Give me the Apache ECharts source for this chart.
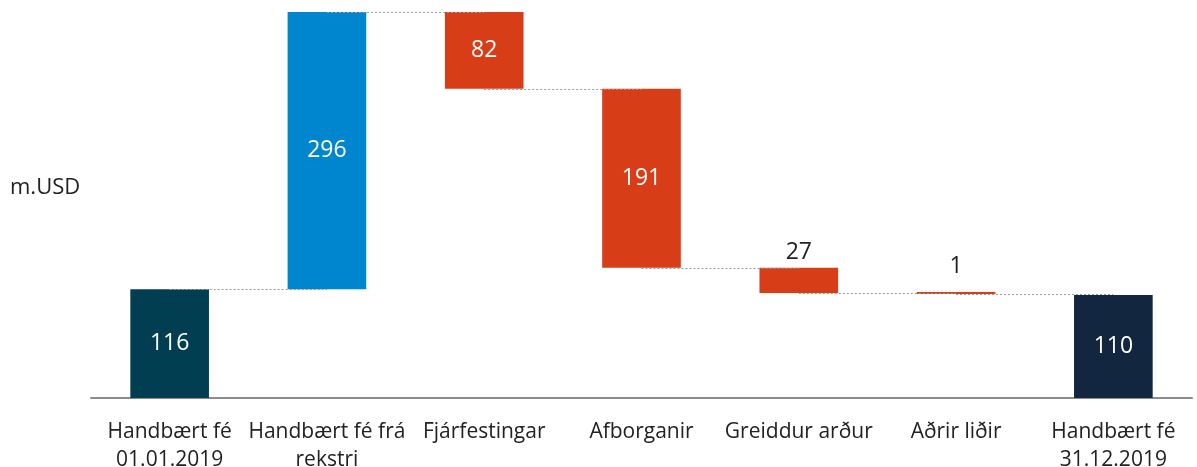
<!DOCTYPE html>
<html>
<head>
<meta charset="utf-8">
<script src="https://cdn.jsdelivr.net/npm/echarts@6/dist/echarts.min.js"></script>
<style>
  html, body { margin: 0; padding: 0; background: #fff; }
  #chart { width: 1197px; height: 467px; }
</style>
</head>
<body>
<div id="chart"></div>
<script>
// gögn
const categories = ['Handbært fé\n01.01.2019', 'Handbært fé frá\nrekstri', 'Fjárfestingar', 'Afborganir', 'Greiddur arður', 'Aðrir liðir', 'Handbært fé\n31.12.2019'];
const changes = [116, 296, -82, -191, -27, -1, 110];
const kinds = ['total', 'up', 'down', 'down', 'down', 'down', 'total'];

const colors = { total0: '#023E51', up: '#0086CF', down: '#D73E17', total1: '#13263F' };

// reikna grunn og hæð hverrar súlu
let running = 0;
const base = [], height = [], levels = [];
changes.forEach((v, i) => {
    if (kinds[i] === 'total') {
        base.push(0);
        height.push(v);
        running = v;
    } else if (v >= 0) {
        base.push(running);
        height.push(v);
        running += v;
    } else {
        running += v;
        base.push(running);
        height.push(-v);
    }
    levels.push(running);
});
const yMax = Math.max(...base.map((b, i) => b + height[i]));

// tengilínur milli súlna
const connectors = [];
for (let i = 0; i < categories.length - 1; i++) {
    connectors.push([{ coord: [i, levels[i]] }, { coord: [i + 1, levels[i]] }]);
}

const chart = echarts.init(document.getElementById('chart'));
chart.setOption({
    animation: false,
    textStyle: { fontFamily: 'Open Sans' },
    grid: { left: 91, right: 5, top: 12, bottom: 69, outerBoundsMode: 'none', containLabel: false },
    graphic: [{
        type: 'text', left: 10, top: 177,
        style: { text: 'm.USD', font: '22px "Open Sans"', fill: '#222' }
    }],
    xAxis: {
        type: 'category',
        data: categories,
        axisLine: { lineStyle: { color: '#8c8c8c', width: 2 } },
        axisTick: { show: false },
        axisLabel: { color: '#222', fontSize: 21, lineHeight: 28, margin: 20, interval: 0 }
    },
    yAxis: {
        type: 'value', min: 0, max: yMax, show: false, splitLine: { show: false }
    },
    series: [
        {
            type: 'bar', stack: 'w', data: base, barWidth: '50%', z: 1,
            itemStyle: { color: 'transparent' }, silent: true,
            markLine: {
                symbol: 'none', silent: true, label: { show: false },
                lineStyle: { color: '#9a9a9a', type: [2, 2], width: 1 },
                data: connectors
            }
        },
        {
            type: 'bar', stack: 'w', barWidth: '50%', barMinHeight: 2, z: 3,
            data: height.map((h, i) => {
                let c = kinds[i] === 'up' ? colors.up : kinds[i] === 'down' ? colors.down : (i === 0 ? colors.total0 : colors.total1);
                const small = h < 50;
                return {
                    value: h,
                    itemStyle: { color: c },
                    label: {
                        show: true,
                        position: small ? 'top' : 'inside',
                        color: small ? '#222' : '#fff',
                        fontSize: 23,
                        distance: h < 5 ? 14 : 4,
                        formatter: String(Math.abs(changes[i]))
                    }
                };
            })
        }
    ]
});
</script>
</body>
</html>
